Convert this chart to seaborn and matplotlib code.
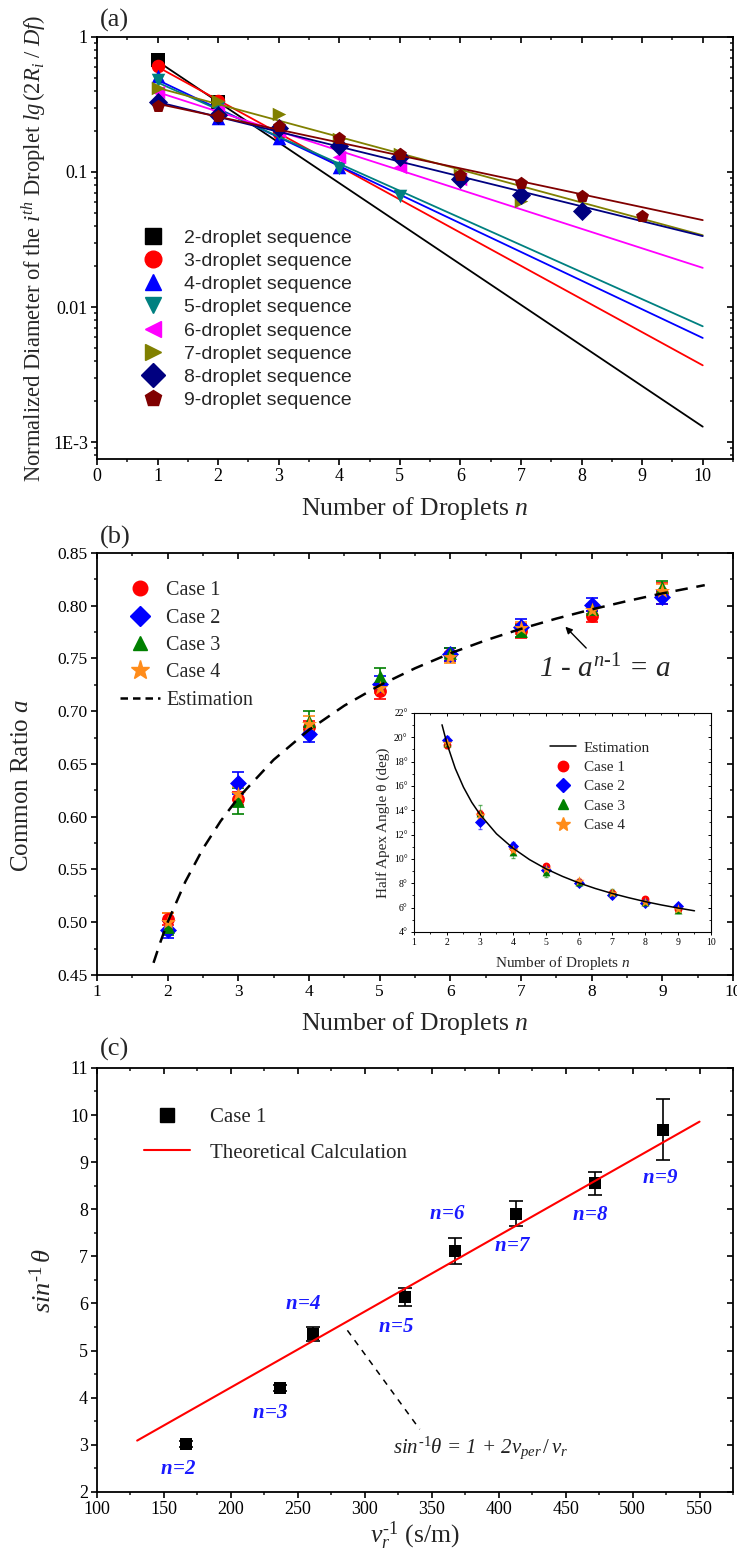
import numpy as np
import matplotlib
matplotlib.use('Agg')
import matplotlib.pyplot as plt
from matplotlib.lines import Line2D
from matplotlib.ticker import (MultipleLocator, LogLocator, NullFormatter,
                               FormatStrFormatter, FuncFormatter)
import seaborn as sns

# ---------------- panel (a): normalized droplet diameters ----------------
seq_labels = ['2-droplet sequence', '3-droplet sequence', '4-droplet sequence',
              '5-droplet sequence', '6-droplet sequence', '7-droplet sequence',
              '8-droplet sequence', '9-droplet sequence']
seq2 = [0.67, 0.33]
seq3 = [0.61, 0.335, 0.195]
seq4 = [0.51, 0.25, 0.18, 0.108]
seq5 = [0.48, 0.30, 0.19, 0.107, 0.066]
seq6 = [0.39, 0.29, 0.20, 0.13, 0.108, 0.088]
seq7 = [0.42, 0.335, 0.27, 0.175, 0.135, 0.095, 0.061]
seq8 = [0.33, 0.265, 0.21, 0.155, 0.13, 0.088, 0.067, 0.051]
seq9 = [0.31, 0.26, 0.22, 0.18, 0.135, 0.095, 0.083, 0.066, 0.047]
# exponential fit lines, value at n=1 and n=10
fit_n = [1, 10]
fit_start = [0.66, 0.60, 0.48, 0.46, 0.39, 0.42, 0.33, 0.32]
fit_end = [0.0013, 0.0037, 0.0059, 0.0072, 0.0195, 0.034, 0.0335, 0.044]

# ---------------- panel (b): common ratio a ----------------
n_cases = [2, 3, 4, 5, 6, 7, 8, 9]
case_labels = ['Case 1', 'Case 2', 'Case 3', 'Case 4']
a_case1 = [0.503, 0.617, 0.685, 0.719, 0.754, 0.776, 0.790, 0.812]
a_case2 = [0.493, 0.632, 0.678, 0.726, 0.754, 0.780, 0.801, 0.808]
a_case3 = [0.495, 0.615, 0.691, 0.733, 0.755, 0.776, 0.797, 0.818]
a_case4 = [0.500, 0.622, 0.688, 0.722, 0.751, 0.779, 0.796, 0.814]
a_err1 = [0.006, 0.006, 0.006, 0.007, 0.006, 0.007, 0.005, 0.010]
a_err2 = [0.008, 0.010, 0.007, 0.007, 0.006, 0.007, 0.006, 0.006]
a_err3 = [0.007, 0.012, 0.009, 0.008, 0.005, 0.006, 0.005, 0.005]
a_err4 = [0.009, 0.006, 0.007, 0.005, 0.005, 0.006, 0.006, 0.007]
est_n = [1.8, 1.9, 2.0, 2.25, 2.5, 2.75, 3.0, 3.5, 4.0, 4.5, 5.0, 5.5, 6.0,
         6.5, 7.0, 7.5, 8.0, 8.5, 9.0, 9.6]
est_a = [0.4615, 0.4817, 0.500, 0.5384, 0.5698, 0.5959, 0.618, 0.654, 0.6823,
         0.7053, 0.7245, 0.7407, 0.7549, 0.7672, 0.7781, 0.7878, 0.7965,
         0.8044, 0.8117, 0.8195]

# inset: half apex angle (deg)
th_case1 = [19.4, 13.7, 10.9, 9.4, 8.1, 7.2, 6.7, 5.9]
th_case2 = [19.8, 13.0, 11.1, 9.1, 8.0, 7.0, 6.4, 6.1]
th_case3 = [19.5, 13.8, 10.6, 8.9, 8.1, 7.3, 6.5, 5.8]
th_case4 = [19.5, 13.6, 10.7, 9.2, 8.2, 7.2, 6.5, 5.9]
th_err1 = [0.3, 0.3, 0.3, 0.2, 0.2, 0.2, 0.2, 0.2]
th_err2 = [0.3, 0.5, 0.3, 0.2, 0.2, 0.2, 0.2, 0.2]
th_err3 = [0.4, 0.6, 0.5, 0.4, 0.2, 0.2, 0.2, 0.2]
th_err4 = [0.3, 0.3, 0.3, 0.3, 0.2, 0.2, 0.2, 0.2]
est_th_n = [1.85, 2.0, 2.25, 2.5, 2.75, 3.0, 3.5, 4.0, 4.5, 5.0, 5.5, 6.0, 6.5,
            7.0, 7.5, 8.0, 8.5, 9.0, 9.5]
est_th = [21.03, 19.47, 17.45, 15.90, 14.66, 13.66, 12.07, 10.89, 9.95, 9.19,
          8.57, 8.03, 7.57, 7.17, 6.82, 6.50, 6.22, 5.97, 5.74]

# ---------------- panel (c): sin^-1 theta vs 1/v_r ----------------
inv_vr = [166.6, 236.4, 261.0, 330.4, 367.1, 412.9, 471.7, 522.8]
inv_sin = [3.02, 4.21, 5.35, 6.13, 7.11, 7.91, 8.55, 9.69]
inv_sin_err = [0.07, 0.07, 0.15, 0.19, 0.28, 0.27, 0.25, 0.65]
n_labels = ['n=2', 'n=3', 'n=4', 'n=5', 'n=6', 'n=7', 'n=8', 'n=9']
theory_x = [130, 550]
theory_y = [3.09, 9.86]

# ---------------- style ----------------
sns.set_theme(style='ticks')
plt.rcParams['font.family'] = ['Liberation Serif', 'DejaVu Serif']
plt.rcParams['mathtext.fontset'] = 'custom'
plt.rcParams['mathtext.rm'] = 'Liberation Serif'
plt.rcParams['mathtext.it'] = 'Liberation Serif:italic'
plt.rcParams['mathtext.bf'] = 'Liberation Serif:bold:italic'
plt.rcParams['axes.linewidth'] = 1.3
plt.rcParams['axes.edgecolor'] = 'black'


def frame(ax, xmaj, xmin, ymaj=None, ymin=None, logy=False, size=12,
          tl=4.5, tw=1.2):
    ax.tick_params(which='major', direction='out', length=tl, width=tw,
                   labelsize=size, colors='black', pad=2)
    ax.tick_params(which='minor', direction='out', length=tl * 0.55, width=tw)
    ax.xaxis.set_major_locator(MultipleLocator(xmaj))
    ax.xaxis.set_minor_locator(MultipleLocator(xmin))
    if not logy:
        ax.yaxis.set_major_locator(MultipleLocator(ymaj))
        ax.yaxis.set_minor_locator(MultipleLocator(ymin))
    top = ax.secondary_xaxis('top')
    top.xaxis.set_major_locator(MultipleLocator(xmaj))
    top.xaxis.set_minor_locator(MultipleLocator(xmin))
    right = ax.secondary_yaxis('right')
    if logy:
        right.yaxis.set_major_locator(LogLocator(base=10))
        right.yaxis.set_minor_locator(LogLocator(base=10, subs=np.arange(2, 10)))
    else:
        right.yaxis.set_major_locator(MultipleLocator(ymaj))
        right.yaxis.set_minor_locator(MultipleLocator(ymin))
    for sec in (top, right):
        sec.tick_params(which='major', direction='in', length=tl, width=tw,
                        colors='black')
        sec.tick_params(which='minor', direction='in', length=tl * 0.55, width=tw)
        for axis in (sec.xaxis, sec.yaxis):
            axis.set_major_formatter(NullFormatter())
            axis.set_minor_formatter(NullFormatter())
        for sp in sec.spines.values():
            sp.set_visible(False)


fig = plt.figure(figsize=(7.37, 15.52), dpi=100)

# ================= (a) =================
ax_a = fig.add_axes([0.1316, 0.7043, 0.8630, 0.2719])
seqs = [seq2, seq3, seq4, seq5, seq6, seq7, seq8, seq9]
colors_a = ['#000000', '#FF0000', '#0000FF', '#008080', '#FF00FF', '#808000',
            '#000080', '#800000']
markers_a = ['s', 'o', '^', 'v', '<', '>', 'D', 'p']
for i, vals in enumerate(seqs):
    n = np.arange(1, len(vals) + 1)
    sns.scatterplot(x=n, y=vals, marker=markers_a[i], color=colors_a[i], s=95,
                    linewidth=0, ax=ax_a, zorder=3 + i)
    sns.lineplot(x=fit_n, y=[fit_start[i], fit_end[i]], color=colors_a[i],
                 lw=1.3, ax=ax_a, zorder=3 + i)
ax_a.set_yscale('log')
ax_a.set_xlim(0, 10.5)
ax_a.set_ylim(10 ** -3.125, 1)
frame(ax_a, 1, 0.5, logy=True, size=13)
ax_a.set_yticks([1, 0.1, 0.01, 0.001], ['1', '0.1', '0.01', '1E-3'])
ax_a.yaxis.set_minor_locator(LogLocator(base=10, subs=np.arange(2, 10)))
ax_a.yaxis.set_minor_formatter(NullFormatter())
ax_a.set_xlabel('Number of Droplets $n$', fontsize=18.5, labelpad=7)
ax_a.set_ylabel(r'Normalized Diameter of the $i^{th}$ Droplet $lg\,(2R_i\ /\ Df)$',
                fontsize=16.3, labelpad=3)
h_a = [Line2D([], [], ls='none', marker=markers_a[i], color=colors_a[i],
              markersize=12) for i in range(8)]
ax_a.legend(h_a, seq_labels, loc='upper left', bbox_to_anchor=(0.058, 0.545),
            frameon=False, borderaxespad=0, borderpad=0, handlelength=2.0,
            handletextpad=0.6, labelspacing=0.29,
            prop={'family': 'Liberation Sans', 'size': 14})
fig.text(0.136, 0.987, '(a)', fontsize=19, va='center')

# ================= (b) =================
ax_b = fig.add_axes([0.1316, 0.3718, 0.8630, 0.2719])
cases = [a_case1, a_case2, a_case3, a_case4]
errs = [a_err1, a_err2, a_err3, a_err4]
colors_b = ['#FF0000', '#0000FF', '#008000', '#FF8C1A']
markers_b = ['o', 'D', '^', '*']
sizes_b = [85, 75, 85, 130]
for i in range(4):
    ax_b.errorbar(n_cases, cases[i], yerr=errs[i], fmt='none', ecolor=colors_b[i],
                  elinewidth=1.2, capsize=4, capthick=1.2, zorder=3)
    sns.scatterplot(x=n_cases, y=cases[i], marker=markers_b[i], color=colors_b[i],
                    s=sizes_b[i], linewidth=0, ax=ax_b, zorder=4)
sns.lineplot(x=est_n, y=est_a, color='black', lw=1.8, ax=ax_b, zorder=5)
ax_b.lines[-1].set_dashes((5, 3.5))
ax_b.set_xlim(1, 10)
ax_b.set_ylim(0.45, 0.85)
frame(ax_b, 1, 0.5, 0.05, 0.025, size=12.5)
ax_b.yaxis.set_major_formatter(FormatStrFormatter('%.2f'))
ax_b.set_xlabel('Number of Droplets $n$', fontsize=18.5, labelpad=7)
ax_b.set_ylabel('Common Ratio $a$', fontsize=18, labelpad=8)
ax_b.yaxis.set_label_coords(-0.1, 0.45)
h_b = [Line2D([], [], ls='none', marker=markers_b[i], color=colors_b[i],
              markersize=10.5 if i < 3 else 14) for i in range(4)]
h_b.append(Line2D([], [], color='black', lw=1.8, dashes=(3, 2)))
ax_b.legend(h_b, case_labels + ['Estimation'], loc='upper left',
            bbox_to_anchor=(0.036, 0.933), frameon=False, borderaxespad=0,
            borderpad=0, handlelength=2.0, handletextpad=0.3, labelspacing=0.41,
            fontsize=14.5)
ax_b.annotate('', xy=(7.6, 0.782), xytext=(7.95, 0.758),
              arrowprops=dict(arrowstyle='-|>', color='black', lw=1.0,
                              mutation_scale=10))
ax_b.text(7.26, 0.7396, r'1 - $a^{n\text{-}\mathit{1}}$ = $a$', fontsize=21,
          style='italic', va='center', ha='left')
fig.text(0.136, 0.654, '(b)', fontsize=19, va='center')

# inset
ax_i = fig.add_axes([0.5617, 0.3995, 0.4030, 0.1411])
thetas = [th_case1, th_case2, th_case3, th_case4]
th_errs = [th_err1, th_err2, th_err3, th_err4]
sns.lineplot(x=est_th_n, y=est_th, color='black', lw=1.1, ax=ax_i, zorder=5)
for i in range(4):
    ax_i.errorbar(n_cases, thetas[i], yerr=th_errs[i], fmt='none',
                  ecolor=colors_b[i], elinewidth=0.6, capsize=1.5, alpha=0.6,
                  zorder=3)
    sns.scatterplot(x=n_cases, y=thetas[i], marker=markers_b[i], color=colors_b[i],
                    s=32 if i < 3 else 60, linewidth=0, ax=ax_i, zorder=4)
ax_i.set_xlim(1, 10)
ax_i.set_ylim(4, 22)
frame(ax_i, 1, 0.5, 2, 1, size=7, tl=2.5, tw=0.7)
ax_i.yaxis.set_major_formatter(FuncFormatter(lambda v, p: '%d°' % v))
for sp in ax_i.spines.values():
    sp.set_linewidth(0.8)
ax_i.set_xlabel('Number of Droplets $n$', fontsize=11, labelpad=5)
ax_i.set_ylabel('Half Apex Angle θ (deg)', fontsize=11, labelpad=3)
h_i = [Line2D([], [], color='black', lw=1.1)]
h_i += [Line2D([], [], ls='none', marker=markers_b[i], color=colors_b[i],
               markersize=7.5 if i < 3 else 10) for i in range(4)]
ax_i.legend(h_i, ['Estimation'] + case_labels, loc='upper left',
            bbox_to_anchor=(0.458, 0.872), frameon=False, borderaxespad=0,
            borderpad=0, handlelength=1.7, handletextpad=0.5, labelspacing=0.37,
            fontsize=11)

# ================= (c) =================
ax_c = fig.add_axes([0.1316, 0.0387, 0.8630, 0.2732])
ax_c.errorbar(inv_vr, inv_sin, yerr=inv_sin_err, fmt='none', ecolor='black',
              elinewidth=1.2, capsize=5, capthick=1.2, zorder=3)
sns.scatterplot(x=inv_vr, y=inv_sin, marker='s', color='black', s=70,
                linewidth=0, ax=ax_c, zorder=4)
sns.lineplot(x=theory_x, y=theory_y, color='#FF0000', lw=1.5, ax=ax_c, zorder=5)
label_offsets = [(-8, -26), (-9, -26), (-9, 30), (-9, -30), (-7, 37), (-3, -33),
                 (-4, -32), (-3, -49)]
for x, y, lab, off in zip(inv_vr, inv_sin, n_labels, label_offsets):
    ax_c.annotate('$\\mathbf{%s}$' % lab.replace('=', '\\!=\\!'), xy=(x, y),
                  xytext=(off[0] * 0.72, off[1] * 0.72), textcoords='offset points',
                  ha='center', va='center', color='#1a1aff', fontsize=15)
ax_c.plot([287, 341], [5.43, 3.33], color='black', lw=1.1, dashes=(4, 4))
ax_c.text(321, 2.93,
          r'$sin^{\text{-}\mathit{1}}\theta$ = 1 + 2$v_{per}\,/\,v_r$',
          fontsize=15, style='italic', color='#222222', va='center', ha='left')
ax_c.set_xlim(100, 575)
ax_c.set_ylim(2, 11)
frame(ax_c, 50, 25, 1, 0.5, size=13)
ax_c.set_xlabel(r'$v_r^{\text{-}\mathit{1}}$ (s/m)', fontsize=18.5, labelpad=1)
ax_c.set_ylabel(r'$sin^{\text{-}\mathit{1}}\,\theta$', fontsize=19, labelpad=10)
h_c = [Line2D([], [], ls='none', marker='s', color='black', markersize=10),
       Line2D([], [], color='#FF0000', lw=1.5)]
ax_c.legend(h_c, ['Case 1', 'Theoretical Calculation'], loc='upper left',
            bbox_to_anchor=(0.074, 0.907), frameon=False, borderaxespad=0,
            borderpad=0, handlelength=2.2, handletextpad=0.96, labelspacing=0.77,
            fontsize=15)
fig.text(0.136, 0.3235, '(c)', fontsize=19, va='center')

fig.savefig('out.png', dpi=100)
